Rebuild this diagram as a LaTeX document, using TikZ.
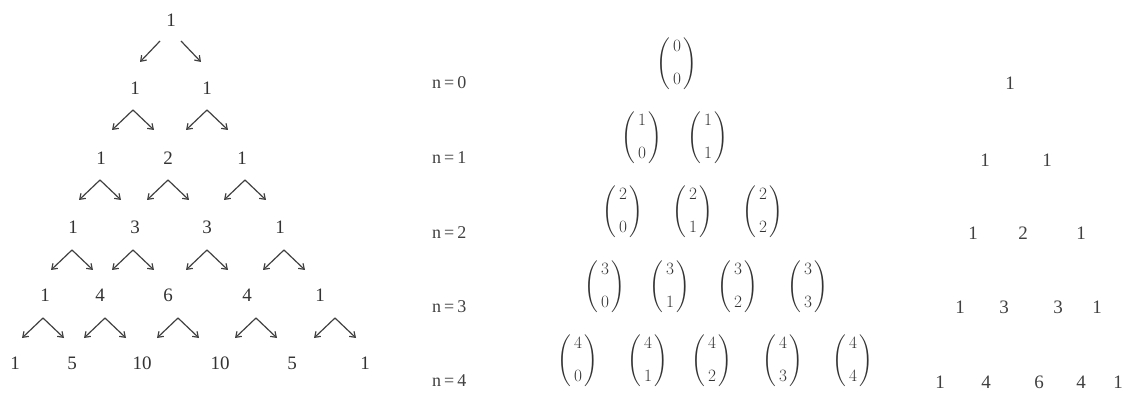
\documentclass[tikz,border=0pt]{standalone}
\usepackage{amsmath}
\usepackage{fontspec}
\setmainfont{Liberation Serif}
\usetikzlibrary{arrows.meta}
\newcommand\caretat[3]{%
  \coordinate (#1) at (#2,#3);
  \draw[arr] (#1) -- ++(-21,20);
  \draw[arr] (#1) -- ++(21,20);}
\newcommand\bnm[2]{$\left(\begin{array}{@{\,}c@{\,}}#1\\[12pt]#2\end{array}\right)$}
\begin{document}
\begin{tikzpicture}[x=1pt,y=-1pt,
  num/.style={text=black!80, font=\fontsize{19}{22}\selectfont, inner sep=0pt},
  lab/.style={text=black!75, font=\fontsize{18}{21}\selectfont, inner sep=0pt, anchor=west},
  bin/.style={text=black!80, font=\fontsize{18}{21}\selectfont, inner sep=0pt},
  rnum/.style={text=black!75, font=\fontsize{19}{22}\selectfont, inner sep=0pt},
  arr/.style={draw=black!75, line width=1.2pt, -{Straight Barb[length=5pt,width=7pt]}}]
\useasboundingbox (0,0) rectangle (1132,403);
% ---- left triangle ----
\node[num] (a00) at (171,20) {1};
\node[num] (a10) at (135,88) {1};
\node[num] (a11) at (207,88) {1};
\node[num] (a20) at (101,158) {1};
\node[num] (a21) at (168,158) {2};
\node[num] (a22) at (242,158) {1};
\node[num] (a30) at (73,227) {1};
\node[num] (a31) at (135,227) {3};
\node[num] (a32) at (207,227) {3};
\node[num] (a33) at (280,227) {1};
\node[num] (a40) at (45,295) {1};
\node[num] (a41) at (100,295) {4};
\node[num] (a42) at (168,295) {6};
\node[num] (a43) at (247,295) {4};
\node[num] (a44) at (320,295) {1};
\node[num] (a50) at (15,363) {1};
\node[num] (a51) at (72,363) {5};
\node[num] (a52) at (142,363) {10};
\node[num] (a53) at (220,363) {10};
\node[num] (a54) at (292,363) {5};
\node[num] (a55) at (365,363) {1};
% arrows
\coordinate (r0a) at (160,41); \coordinate (r0b) at (140,62);
\coordinate (r0c) at (181,41); \coordinate (r0d) at (201,62);
\draw[arr] (r0a) -- (r0b);
\draw[arr] (r0c) -- (r0d);
\caretat{c10}{133}{110}
\caretat{c11}{207}{110}
\caretat{c20}{100}{180}
\caretat{c21}{168}{180}
\caretat{c22}{245}{180}
\caretat{c30}{72}{250}
\caretat{c31}{133}{250}
\caretat{c32}{207}{250}
\caretat{c33}{284}{250}
\caretat{c40}{43}{318}
\caretat{c41}{105}{318}
\caretat{c42}{178}{318}
\caretat{c43}{256}{318}
\caretat{c44}{335}{318}
% ---- middle ----
\node[lab] (n0) at (432,83) {n\,=\,0};
\node[lab] (n1) at (432,158) {n\,=\,1};
\node[lab] (n2) at (432,233) {n\,=\,2};
\node[lab] (n3) at (432,307) {n\,=\,3};
\node[lab] (n4) at (432,381) {n\,=\,4};
\node[bin] (b00) at (677,64) {\bnm{0}{0}};
\node[bin] (b10) at (642,138) {\bnm{1}{0}};
\node[bin] (b11) at (708,138) {\bnm{1}{1}};
\node[bin] (b20) at (623,212) {\bnm{2}{0}};
\node[bin] (b21) at (693,212) {\bnm{2}{1}};
\node[bin] (b22) at (763,212) {\bnm{2}{2}};
\node[bin] (b30) at (605,287) {\bnm{3}{0}};
\node[bin] (b31) at (670,287) {\bnm{3}{1}};
\node[bin] (b32) at (738,287) {\bnm{3}{2}};
\node[bin] (b33) at (808,287) {\bnm{3}{3}};
\node[bin] (b40) at (578,361) {\bnm{4}{0}};
\node[bin] (b41) at (648,361) {\bnm{4}{1}};
\node[bin] (b42) at (712,361) {\bnm{4}{2}};
\node[bin] (b43) at (783,361) {\bnm{4}{3}};
\node[bin] (b44) at (853,361) {\bnm{4}{4}};
% ---- right ----
\node[rnum] (p00) at (1010,83) {1};
\node[rnum] (p10) at (985,160) {1};
\node[rnum] (p11) at (1047,160) {1};
\node[rnum] (p20) at (973,233) {1};
\node[rnum] (p21) at (1023,233) {2};
\node[rnum] (p22) at (1081,233) {1};
\node[rnum] (p30) at (960,307) {1};
\node[rnum] (p31) at (1004,307) {3};
\node[rnum] (p32) at (1058,307) {3};
\node[rnum] (p33) at (1097,307) {1};
\node[rnum] (p40) at (940,382) {1};
\node[rnum] (p41) at (986,382) {4};
\node[rnum] (p42) at (1039,382) {6};
\node[rnum] (p43) at (1081,382) {4};
\node[rnum] (p44) at (1118,382) {1};
\end{tikzpicture}
\end{document}
